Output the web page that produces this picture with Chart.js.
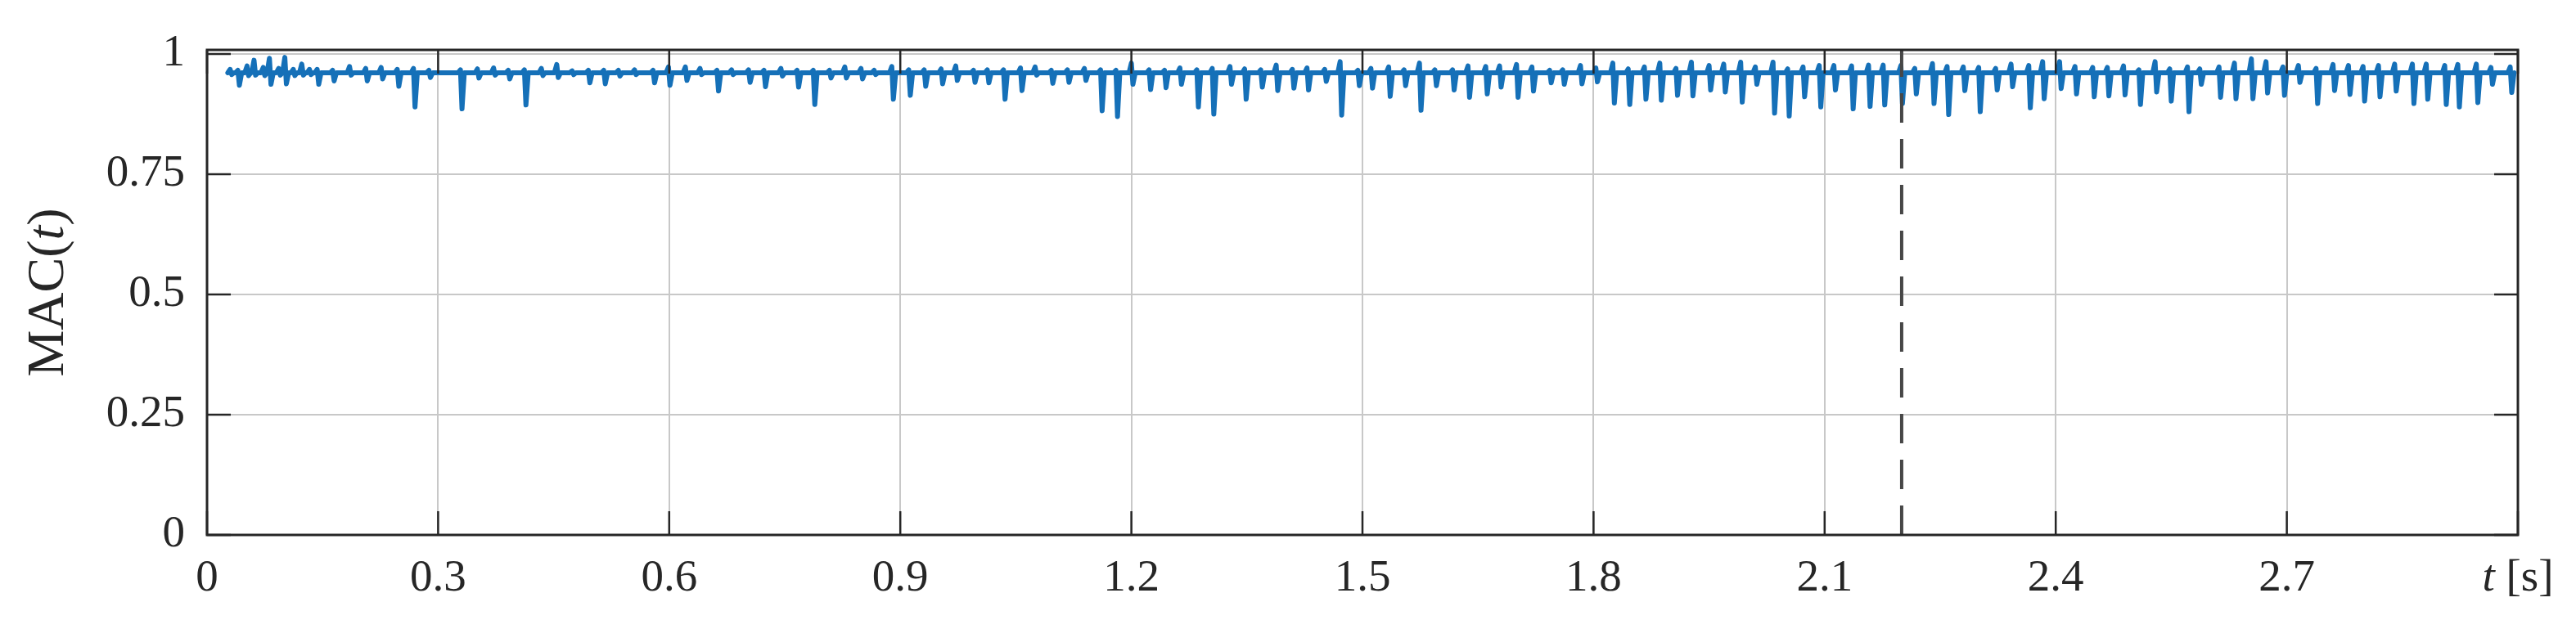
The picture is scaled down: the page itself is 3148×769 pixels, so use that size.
<!DOCTYPE html>
<html>
<head>
<meta charset="utf-8">
<script src="https://cdn.jsdelivr.net/npm/chart.js@4.4.1/dist/chart.umd.min.js"></script>
<style>
  html, body { margin: 0; padding: 0; background: #fff; }
  canvas { display: block; }
</style>
</head>
<body>
<canvas id="macChart" width="3148" height="769"></canvas>
<script>
// spikes: time [s], upper tip and lower tip of MAC(t)
const spikeT = [
  0.031, 0.041, 0.053, 0.062, 0.074, 0.082, 0.094, 0.102, 0.113, 0.124, 0.134, 0.144, 0.164, 0.186,
  0.207, 0.227, 0.248, 0.269, 0.289, 0.330, 0.352, 0.373, 0.392, 0.413, 0.435, 0.455, 0.475, 0.496,
  0.516, 0.535, 0.556, 0.580, 0.600, 0.622, 0.641, 0.663, 0.682, 0.704, 0.724, 0.746, 0.767, 0.788,
  0.809, 0.829, 0.850, 0.867, 0.890, 0.912, 0.932, 0.954, 0.973, 0.996,
  1.014, 1.035, 1.057, 1.076, 1.097, 1.118, 1.140, 1.161, 1.181, 1.201, 1.224, 1.244, 1.264, 1.286,
  1.306, 1.329, 1.348, 1.369, 1.389, 1.410, 1.429, 1.452, 1.472, 1.495,
  1.512, 1.535, 1.555, 1.575, 1.595, 1.618, 1.638, 1.661, 1.679, 1.701, 1.721, 1.744, 1.761, 1.784,
  1.804, 1.826, 1.846, 1.867, 1.887, 1.908, 1.928, 1.951, 1.970, 1.992,
  2.011, 2.034, 2.053, 2.073, 2.094, 2.113, 2.136, 2.158, 2.177, 2.200, 2.218, 2.241, 2.260, 2.281,
  2.301, 2.323, 2.343, 2.366, 2.384, 2.406, 2.426, 2.449, 2.468, 2.489,
  2.509, 2.530, 2.549, 2.572, 2.588, 2.613, 2.633, 2.655, 2.674, 2.696, 2.716, 2.739, 2.761, 2.781,
  2.800, 2.820, 2.841, 2.864, 2.882, 2.906, 2.923, 2.947, 2.966, 2.991
];
const spikeHi = [
  0.968, 0.966, 0.975, 0.987, 0.972, 0.991, 0.970, 0.993, 0.968, 0.979, 0.968, 0.968, 0.966, 0.974,
  0.970, 0.972, 0.968, 0.970, 0.966, 0.967, 0.969, 0.971, 0.966, 0.967, 0.970, 0.978, 0.965, 0.966,
  0.966, 0.966, 0.967, 0.966, 0.973, 0.973, 0.970, 0.966, 0.967, 0.967, 0.966, 0.970, 0.966, 0.966,
  0.966, 0.973, 0.970, 0.966, 0.974, 0.967, 0.967, 0.969, 0.975, 0.966,
  0.967, 0.967, 0.971, 0.973, 0.966, 0.967, 0.970, 0.967, 0.966, 0.981, 0.967, 0.966, 0.971, 0.967,
  0.970, 0.974, 0.969, 0.967, 0.977, 0.968, 0.971, 0.968, 0.984, 0.966,
  0.970, 0.973, 0.967, 0.981, 0.967, 0.967, 0.975, 0.974, 0.975, 0.978, 0.973, 0.966, 0.967, 0.976,
  0.971, 0.981, 0.969, 0.973, 0.981, 0.970, 0.983, 0.976, 0.979, 0.983,
  0.973, 0.983, 0.969, 0.973, 0.976, 0.976, 0.975, 0.977, 0.977, 0.976, 0.970, 0.980, 0.974, 0.973,
  0.972, 0.970, 0.979, 0.976, 0.984, 0.984, 0.974, 0.972, 0.972, 0.975,
  0.967, 0.984, 0.969, 0.973, 0.969, 0.973, 0.981, 0.990, 0.984, 0.973, 0.976, 0.970, 0.978, 0.976,
  0.974, 0.976, 0.979, 0.979, 0.979, 0.976, 0.978, 0.979, 0.972, 0.973
];
const spikeLo = [
  0.957, 0.935, 0.955, 0.956, 0.955, 0.937, 0.956, 0.938, 0.955, 0.956, 0.957, 0.937, 0.944, 0.956,
  0.944, 0.948, 0.933, 0.890, 0.951, 0.886, 0.950, 0.956, 0.948, 0.894, 0.955, 0.951, 0.957, 0.940,
  0.938, 0.954, 0.957, 0.940, 0.935, 0.945, 0.957, 0.923, 0.957, 0.941, 0.932, 0.954, 0.931, 0.895,
  0.950, 0.950, 0.948, 0.957, 0.906, 0.914, 0.933, 0.938, 0.945, 0.941,
  0.940, 0.906, 0.924, 0.956, 0.939, 0.941, 0.945, 0.882, 0.870, 0.937, 0.926, 0.930, 0.937, 0.890,
  0.875, 0.937, 0.906, 0.931, 0.924, 0.929, 0.925, 0.943, 0.873, 0.934,
  0.929, 0.912, 0.934, 0.883, 0.934, 0.925, 0.910, 0.917, 0.931, 0.910, 0.923, 0.940, 0.937, 0.938,
  0.942, 0.898, 0.895, 0.906, 0.904, 0.914, 0.913, 0.925, 0.921, 0.900,
  0.937, 0.877, 0.871, 0.911, 0.890, 0.925, 0.886, 0.891, 0.894, 0.897, 0.917, 0.897, 0.874, 0.924,
  0.880, 0.925, 0.932, 0.888, 0.907, 0.928, 0.917, 0.911, 0.913, 0.915,
  0.895, 0.921, 0.902, 0.880, 0.937, 0.910, 0.907, 0.907, 0.919, 0.914, 0.941, 0.897, 0.924, 0.916,
  0.902, 0.911, 0.923, 0.897, 0.906, 0.895, 0.890, 0.899, 0.937, 0.920
];
const baseMAC = 0.961;

const xTicks = [0, 0.3, 0.6, 0.9, 1.2, 1.5, 1.8, 2.1, 2.4, 2.7, 3];
const xTickLabels = ['0', '0.3', '0.6', '0.9', '1.2', '1.5', '1.8', '2.1', '2.4', '2.7', ''];
const yTicks = [0, 0.25, 0.5, 0.75, 1];
const yTickLabels = ['0', '0.25', '0.5', '0.75', '1'];
const markerT = 2.2;

const textColor = '#262626';
const serif = '"Liberation Serif", "Times New Roman", serif';

const points = [];
spikeT.forEach((t, i) => {
  points.push({ x: t - 0.004, y: baseMAC });
  points.push({ x: t - 0.001, y: spikeHi[i] });
  points.push({ x: t + 0.001, y: spikeLo[i] });
  points.push({ x: t + 0.004, y: baseMAC });
});

// draw a run of text pieces, some in italic
function drawParts(ctx, parts, size, x, y) {
  let total = 0;
  parts.forEach(p => {
    ctx.font = (p.italic ? 'italic ' : '') + size + 'px ' + serif;
    p.w = ctx.measureText(p.text).width;
    total += p.w;
  });
  let cx = x - total / 2;
  parts.forEach(p => {
    ctx.font = (p.italic ? 'italic ' : '') + size + 'px ' + serif;
    ctx.fillText(p.text, cx, y);
    cx += p.w;
  });
}

const axesFrame = {
  id: 'axesFrame',
  afterDatasetsDraw(chart) {
    const { ctx, chartArea: a, scales: { x, y } } = chart;
    ctx.save();
    // dashed marker line
    const mx = x.getPixelForValue(markerT);
    ctx.strokeStyle = '#474747';
    ctx.lineWidth = 4;
    ctx.setLineDash([36, 20]);
    ctx.beginPath();
    ctx.moveTo(mx, a.bottom);
    ctx.lineTo(mx, a.top);
    ctx.stroke();
    ctx.setLineDash([]);

    // inward ticks on all four sides
    ctx.strokeStyle = textColor;
    ctx.lineWidth = 2.5;
    const tl = 29;
    ctx.beginPath();
    xTicks.forEach(v => {
      const px = x.getPixelForValue(v);
      ctx.moveTo(px, a.bottom); ctx.lineTo(px, a.bottom - tl);
      ctx.moveTo(px, a.top); ctx.lineTo(px, a.top + tl);
    });
    yTicks.forEach(v => {
      const py = y.getPixelForValue(v);
      ctx.moveTo(a.left, py); ctx.lineTo(a.left + tl, py);
      ctx.moveTo(a.right, py); ctx.lineTo(a.right - tl, py);
    });
    ctx.stroke();

    // box
    ctx.lineWidth = 3;
    ctx.strokeRect(a.left, a.top, a.right - a.left, a.bottom - a.top);

    // axis titles
    ctx.fillStyle = textColor;
    ctx.textBaseline = 'middle';
    ctx.textAlign = 'left';
    drawParts(ctx, [{ text: 't', italic: true }, { text: ' [s]' }], 55, x.getPixelForValue(3), 708);
    ctx.translate(60, (a.top + a.bottom) / 2);
    ctx.rotate(-Math.PI / 2);
    drawParts(ctx, [{ text: 'MAC(' }, { text: 't', italic: true }, { text: ')' }], 64, 0, 0);
    ctx.restore();
  }
};

new Chart(document.getElementById('macChart').getContext('2d'), {
  type: 'scatter',
  data: {
    datasets: [{
      data: points,
      showLine: true,
      borderColor: '#1570b8',
      borderWidth: 6,
      pointRadius: 0,
      tension: 0,
      borderJoinStyle: 'round',
      borderCapStyle: 'round'
    }]
  },
  options: {
    responsive: false,
    animation: false,
    layout: { padding: { top: 61, right: 71, left: 0, bottom: 0 } },
    plugins: { legend: { display: false }, tooltip: { enabled: false } },
    scales: {
      x: {
        type: 'linear',
        min: 0,
        max: 3,
        afterBuildTicks: s => { s.ticks = xTicks.map(v => ({ value: v })); },
        afterFit: s => { s.height = 115; },
        grid: { color: '#c8c8c8', lineWidth: 2, drawTicks: false },
        border: { display: false },
        ticks: {
          padding: 21,
          color: textColor,
          font: { family: serif, size: 55 },
          maxRotation: 0,
          autoSkip: false,
          callback: (v, i) => xTickLabels[i]
        }
      },
      y: {
        type: 'linear',
        min: 0,
        max: 1.0085,
        afterBuildTicks: s => { s.ticks = yTicks.map(v => ({ value: v })); },
        afterFit: s => { s.width = 253; },
        grid: { color: '#c8c8c8', lineWidth: 2, drawTicks: false },
        border: { display: false },
        ticks: {
          padding: 27,
          color: textColor,
          font: { family: serif, size: 55 },
          autoSkip: false,
          callback: (v, i) => yTickLabels[i]
        }
      }
    }
  },
  plugins: [axesFrame]
});
</script>
</body>
</html>
